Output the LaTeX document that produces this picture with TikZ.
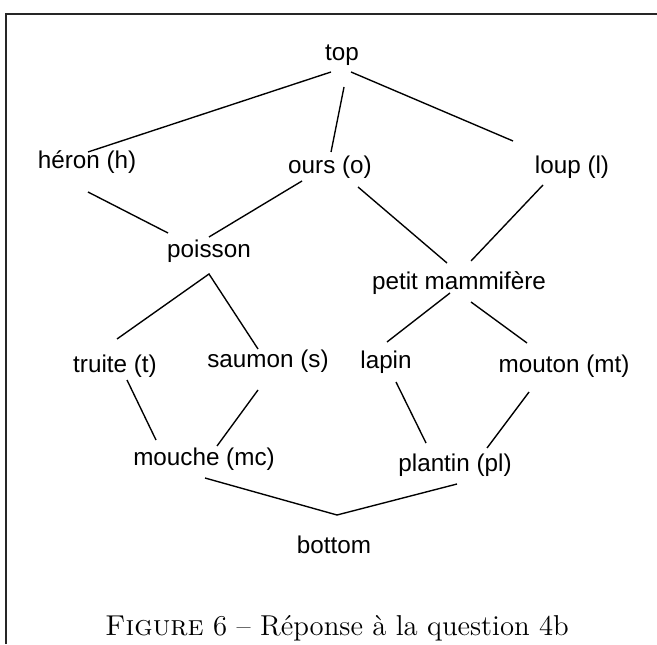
\documentclass[tikz,border=0pt]{standalone}
\usepackage{fontspec}
\newfontfamily\arialfont{Liberation Sans}
\begin{document}
\begin{tikzpicture}[x={(0.4pt,0)},y={(0,-0.4pt)},
  lbl/.style={font=\arialfont\fontsize{9.7}{11}\selectfont, inner sep=0pt, anchor=center},
  edge/.style={line width=0.55pt, black},
  frame/.style={line width=0.6pt, black!85}]
\useasboundingbox (0,0) rectangle (657,644);
\draw[frame] (6,644) -- (6,14) -- (657,14);
% nodes
\node[lbl] (top) at (342,55) {top};
\node[lbl] (h) at (87,162) {héron (h)};
\node[lbl] (o) at (330,167) {ours (o)};
\node[lbl] (l) at (572,167) {loup (l)};
\node[lbl] (p) at (209,251) {poisson};
\node[lbl] (pm) at (459,283) {petit mammifère};
\node[lbl] (t) at (115,366) {truite (t)};
\node[lbl] (s) at (268,361) {saumon (s)};
\node[lbl] (la) at (386,362) {lapin};
\node[lbl] (mt) at (564,366) {mouton (mt)};
\node[lbl] (mc) at (204,459) {mouche (mc)};
\node[lbl] (pl) at (455,465) {plantin (pl)};
\node[lbl] (b) at (334,545) {bottom};
\node[font=\fontsize{11.5}{13}\selectfont, inner sep=0pt, anchor=base] (cap) at (337,635) {\textsc{Figure}~6 -- Réponse à la question 4b};
% connectors
\draw[edge] ([shift={(-11,17)}]top.center) -- ([shift={(1,-10)}]h.center);
\draw[edge] ([shift={(2,32)}]top.center) -- ([shift={(1,-15)}]o.center);
\draw[edge] ([shift={(9,17)}]top.center) -- ([shift={(-59,-26)}]l.center);
\draw[edge] ([shift={(1,30)}]h.center) -- ([shift={(-41,-18)}]p.center);
\draw[edge] ([shift={(-28,14)}]o.center) -- ([shift={(0,-14)}]p.center);
\draw[edge] ([shift={(28,20)}]o.center) -- ([shift={(-12,-20)}]pm.center);
\draw[edge] ([shift={(-29,18)}]l.center) -- ([shift={(12,-22)}]pm.center);
\draw[edge] ([shift={(2,-27)}]t.center) -- ([shift={(0,23)}]p.center) -- ([shift={(-10,-12)}]s.center);
\draw[edge] ([shift={(-9,10)}]pm.center) -- ([shift={(1,-20)}]la.center);
\draw[edge] ([shift={(12,19)}]pm.center) -- ([shift={(-37,-23)}]mt.center);
\draw[edge] ([shift={(12,14)}]t.center) -- ([shift={(-48,-19)}]mc.center);
\draw[edge] ([shift={(-10,29)}]s.center) -- ([shift={(13,-13)}]mc.center);
\draw[edge] ([shift={(10,20)}]la.center) -- ([shift={(-29,-22)}]pl.center);
\draw[edge] ([shift={(-35,26)}]mt.center) -- ([shift={(32,-17)}]pl.center);
\draw[edge] ([shift={(1,19)}]mc.center) -- ([shift={(3,-30)}]b.center) -- ([shift={(2,19)}]pl.center);
\end{tikzpicture}
\end{document}
